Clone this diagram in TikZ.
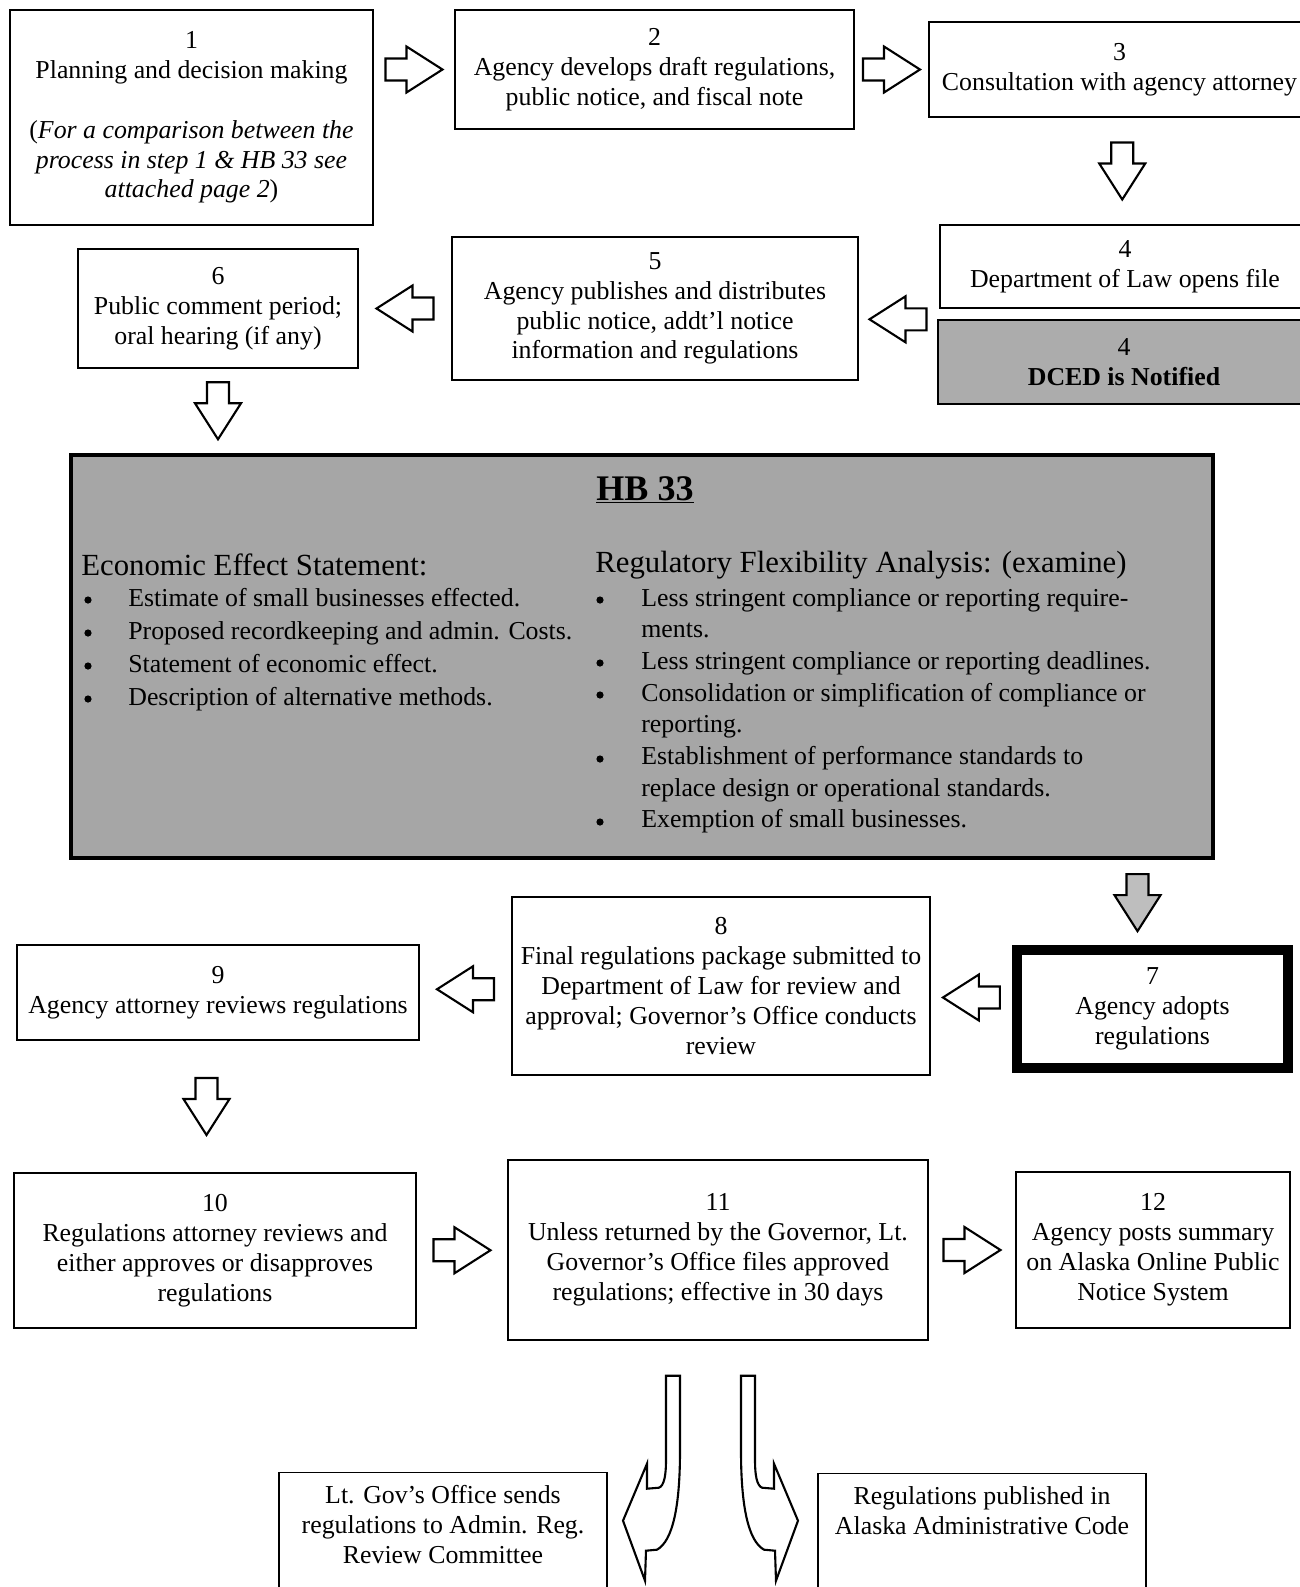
\documentclass[tikz,border=0pt]{standalone}
\usepackage{fontspec}
\setmainfont{Liberation Serif}
\usetikzlibrary{calc}

\definecolor{hbgray}{RGB}{166,166,166}
\definecolor{dcedgray}{RGB}{172,172,172}
\definecolor{arrowgray}{RGB}{190,190,190}

\newcommand{\boxfont}{\fontsize{14.7}{17}\selectfont}

\tikzset{
  stepbox/.style={draw, line width=0.8pt, fill=white, align=center, font=\boxfont, inner sep=0pt},
  boxtext/.style={align=center, font=\boxfont, inner sep=0pt},
  listtext/.style={anchor=north west, align=left, inner sep=0pt},
  arrowfill/.store in=\arrowfill, arrowfill=white,
  blockarrow/.pic={
    \path[draw, line width=1.2pt, fill=\arrowfill, line join=miter]
      (-28.5,-11)--(-7.5,-11)--(-7.5,-23)--(28.5,0)--(-7.5,23)--(-7.5,11)--(-28.5,11)--cycle;},
  bendarrow/.pic={
    \path[draw, line width=1.2pt, fill=white, line join=miter]
      (-7,0)--(7,0)--(7,75) .. controls (7,130) and (0,165) .. (-16,174)
      --(-27,175)--(-28,205)--(-50,145)--(-26,88)--(-26,113)--(-14,112)
      .. controls (-9,110) and (-7,100) .. (-7,85)--cycle;}
}

\begin{document}
\begin{tikzpicture}[x=0.02cm,y=-0.02cm]
\useasboundingbox (0,0) rectangle (1300,1587);
\clip (0,0) rectangle (1300,1587);
\fill[white] (0,0) rectangle (1300,1587);

% top row
\node[stepbox, minimum width=7.26cm, minimum height=4.3cm] (b1) at (191.5,117.5)
  {1\\Planning and decision making\\[17pt](\textit{For a comparison between the}\\\textit{process in step 1 \& HB 33 see}\\\textit{attached page 2})};
\node[stepbox, minimum width=7.98cm, minimum height=2.38cm] (b2) at (654.5,69.5)
  {2\\Agency develops draft regulations,\\public notice, and fiscal note};
\node[stepbox, minimum width=7.62cm, minimum height=1.9cm] (b3) at (1119.5,69.5)
  {3\\Consultation with agency attorney};

% second row
\node[stepbox, minimum width=7.4cm, minimum height=1.66cm] (b4) at (1125,266.5)
  {4\\Department of Law opens file};
\node[stepbox, fill=dcedgray, minimum width=7.44cm, minimum height=1.68cm] (b4d) at (1124,362)
  {4\\\textbf{DCED is Notified}};
\node[stepbox, minimum width=8.12cm, minimum height=2.86cm] (b5) at (655,308.5)
  {5\\Agency publishes and distributes\\public notice, addt'l notice\\information and regulations};
\node[stepbox, minimum width=5.6cm, minimum height=2.38cm] (b6) at (218,308.5)
  {6\\Public comment period;\\oral hearing (if any)};

% HB 33
\node[draw, line width=2.5pt, fill=hbgray, minimum width=22.84cm, minimum height=8.06cm] (hb) at (642,656.5) {};
\node[inner sep=0pt, font=\fontsize{20.5}{24}\selectfont\bfseries] (hbtitle) at (645,490) {\underline{HB 33}};
\node[anchor=west, inner sep=0pt, font=\fontsize{17.5}{20}\selectfont] (eeshead) at (81,565) {Economic Effect Statement:};
\node[anchor=west, inner sep=0pt, font=\fontsize{17.5}{20}\selectfont] (rfahead) at (595,565) {Regulatory Flexibility Analysis: (examine)};
\node[listtext, font=\fontsize{14.7}{18.7}\selectfont] (eeslist) at (128,588)
  {Estimate of small businesses effected.\\
   Proposed recordkeeping and admin. Costs.\\
   Statement of economic effect.\\
   Description of alternative methods.};
\node[listtext, font=\fontsize{14.7}{18}\selectfont] (rfalist) at (641,588)
  {Less stringent compliance or reporting require-\\
   ments.\\
   Less stringent compliance or reporting deadlines.\\
   Consolidation or simplification of compliance or\\
   reporting.\\
   Establishment of performance standards to\\
   replace design or operational standards.\\
   Exemption of small businesses.};
\foreach \y in {600,633,666,699}
  \fill (88,\y) circle (3.6);
\foreach \y in {600,663,695,759,822}
  \fill (600,\y) circle (3.6);

% third row
\node[stepbox, line width=5.5pt, minimum width=5.42cm, minimum height=2.36cm] (b7) at (1152.5,1009)
  {7\\Agency adopts\\regulations};
\node[stepbox, minimum width=8.36cm, minimum height=3.56cm] (b8) at (721,986)
  {8\\Final regulations package submitted to\\Department of Law for review and\\approval; Governor's Office conducts\\review};
\node[stepbox, minimum width=8.04cm, minimum height=1.9cm] (b9) at (218,992.5)
  {9\\Agency attorney reviews regulations};

% fourth row
\node[stepbox, minimum width=8.04cm, minimum height=3.1cm] (b10) at (215,1250.5)
  {10\\Regulations attorney reviews and\\either approves or disapproves\\regulations};
\node[stepbox, minimum width=8.4cm, minimum height=3.6cm] (b11) at (718,1250)
  {11\\Unless returned by the Governor, Lt.\\Governor's Office files approved\\regulations; effective in 30 days};
\node[stepbox, minimum width=5.48cm, minimum height=3.12cm] (b12) at (1153,1250)
  {12\\Agency posts summary\\on Alaska Online Public\\Notice System};

% bottom row
\node[stepbox, anchor=north, minimum width=6.56cm, minimum height=2.6cm] (b13) at (443,1472) {};
\node[boxtext, anchor=north] (b13t) at ($(b13.north)+(0,13)$)
  {Lt. Gov's Office sends\\regulations to Admin. Reg.\\Review Committee};
\node[stepbox, anchor=north, minimum width=6.56cm, minimum height=2.6cm] (b14) at (982,1473) {};
\node[boxtext, anchor=north] (b14t) at ($(b14.north)+(0,13)$)
  {Regulations published in\\Alaska Administrative Code};

% arrows
\pic at ($(b1.east |- b2.west)!0.5!(b2.west)$) {blockarrow};
\pic at ($(b2.east)!0.5!(b3.west)$) {blockarrow};
\pic[rotate=-90] at ($(b3.south)!0.5!(b4.north)$) {blockarrow};
\pic[rotate=180] at ($(b5.east |- b4d.north west)!0.5!(b4d.north west)$) {blockarrow};
\pic[rotate=180] at ($(b6.east)!0.5!(b5.west)$) {blockarrow};
\pic[rotate=-90] at ($(b6.south)!0.5!(b6.south |- hb.north)$) {blockarrow};
\pic[rotate=-90, arrowfill=arrowgray] at ($(hb.south -| b7.north)!0.5!(b7.north)+(-15,0)$) {blockarrow};
\pic[rotate=180] at ($(b8.east)!0.5!(b7.west)$) {blockarrow};
\pic[rotate=180] at ($(b9.east)!0.5!(b8.west)$) {blockarrow};
\pic[rotate=-90] at ($(b9.south)!0.5!(b10.north)+(-10,0)$) {blockarrow};
\pic at ($(b10.east)!0.5!(b11.west)$) {blockarrow};
\pic at ($(b11.east)!0.5!(b12.west)$) {blockarrow};
\pic at ($(b11.south)+(-45,35)$) {bendarrow};
\pic[xscale=-1] at ($(b11.south)+(30,35)$) {bendarrow};

\end{tikzpicture}
\end{document}
